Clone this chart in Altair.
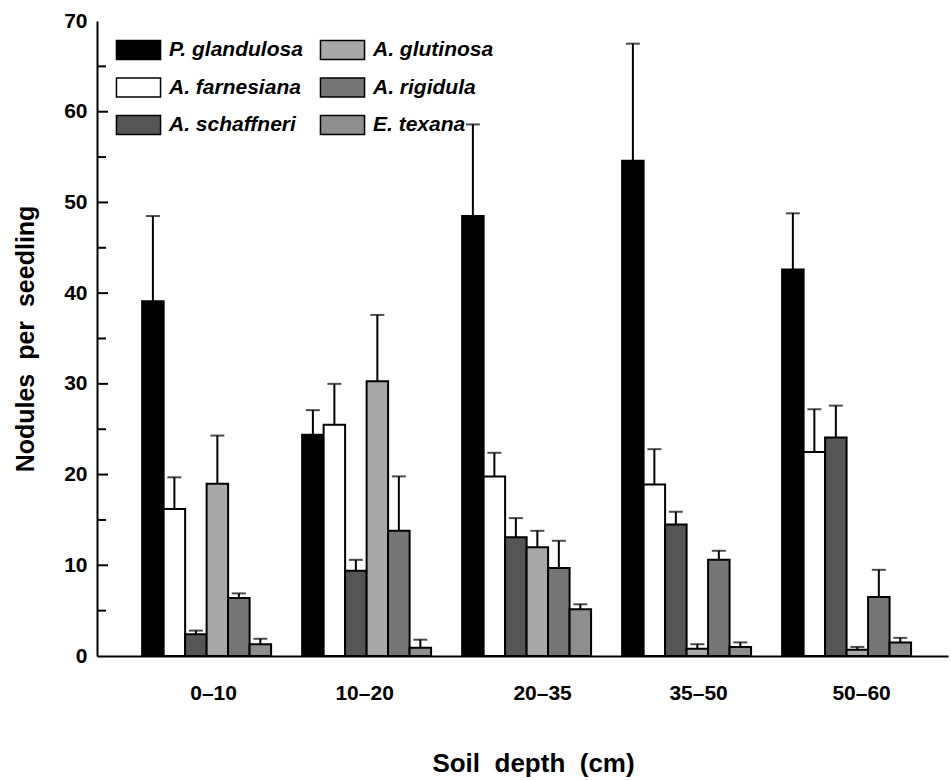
import altair as alt
import pandas as pd

groups = ["0–10", "10–20", "20–35", "35–50", "50–60"]
species = ["P. glandulosa", "A. farnesiana", "A. schaffneri",
           "A. glutinosa", "A. rigidula", "E. texana"]
means = {
    "P. glandulosa": [39.1, 24.4, 48.5, 54.6, 42.6],
    "A. farnesiana": [16.2, 25.5, 19.8, 18.9, 22.5],
    "A. schaffneri": [2.4, 9.4, 13.1, 14.5, 24.1],
    "A. glutinosa": [19.0, 30.3, 12.0, 0.8, 0.7],
    "A. rigidula": [6.4, 13.8, 9.7, 10.6, 6.5],
    "E. texana": [1.3, 0.9, 5.15, 1.0, 1.5],
}
errors = {
    "P. glandulosa": [9.4, 2.7, 10.1, 12.9, 6.2],
    "A. farnesiana": [3.5, 4.5, 2.6, 3.9, 4.7],
    "A. schaffneri": [0.4, 1.2, 2.1, 1.4, 3.5],
    "A. glutinosa": [5.3, 7.3, 1.8, 0.5, 0.3],
    "A. rigidula": [0.5, 6.0, 3.0, 1.0, 3.0],
    "E. texana": [0.6, 0.9, 0.55, 0.5, 0.5],
}
fills = {
    "P. glandulosa": "#000000",
    "A. farnesiana": "#ffffff",
    "A. schaffneri": "#555555",
    "A. glutinosa": "#a8a8a8",
    "A. rigidula": "#767676",
    "E. texana": "#8e8e8e",
}
major_ticks = [10, 20, 30, 40, 50, 60]
minor_ticks = [5, 15, 25, 35, 45, 55, 65]
label_shift = {"0–10": 7, "10–20": -2, "20–35": 16, "35–50": 12, "50–60": 15}

rows = []
for s in species:
    for g, m, e in zip(groups, means[s], errors[s]):
        rows.append({"depth": g, "species": s, "mean": m, "upper": m + e})
df = pd.DataFrame(rows)

FONT = "Liberation Sans"

x_enc = alt.X("depth:N", sort=groups,
              scale=alt.Scale(paddingInner=0.194, paddingOuter=0.2565, align=0.55),
              axis=alt.Axis(title="Soil\u00a0 depth\u00a0 (cm)", labelAngle=0, ticks=False,
                            labelFontSize=21, labelFont=FONT, labelFontWeight="bold",
                            labelColor="black", labelPadding=26,
                            labelOffset={"condition": [
                                {"test": f"datum.value === '{k}'", "value": v}
                                for k, v in label_shift.items()], "value": 0},
                            titleFontSize=26, titleFont=FONT, titleFontWeight="bold",
                            titleColor="black", titleX=436, titleY=115,
                            titleBaseline="alphabetic",
                            domainColor="black", domainWidth=2))
xo_enc = alt.XOffset("species:N", sort=species, scale=alt.Scale(paddingInner=0, paddingOuter=0))
y_scale = alt.Scale(domain=[0, 70], nice=False)

bars = alt.Chart(df).mark_bar(stroke="black", strokeWidth=2).encode(
    x=x_enc,
    xOffset=xo_enc,
    y=alt.Y("mean:Q", scale=y_scale,
            axis=alt.Axis(title="Nodules\u00a0 per\u00a0 seedling", values=[0, 10, 20, 30, 40, 50, 60, 70],
                          ticks=False, grid=False, labelFontSize=21, labelFont=FONT,
                          labelFontWeight="bold", labelColor="black", labelPadding=10,
                          titleFontSize=25, titleFont=FONT, titleFontWeight="bold",
                          titleColor="black", titleX=-64, titleBaseline="alphabetic",
                          domainColor="black", domainWidth=2)),
    fill=alt.Fill("species:N",
                  scale=alt.Scale(domain=species, range=[fills[s] for s in species]),
                  legend=alt.Legend(title=None, orient="none", legendX=31, legendY=18.5,
                                    columns=2, direction="vertical",
                                    symbolType="M-2.32,-1H2.32V1H-2.32Z", symbolSize=361,
                                    symbolStrokeColor="black", symbolStrokeWidth=1.5,
                                    labelFont=FONT, labelFontSize=21, labelFontStyle="italic",
                                    labelFontWeight="bold", labelColor="black",
                                    labelOffset=20, rowPadding=12.5, columnPadding=14,
                                    padding=0, labelLimit=300)),
)

err_line = alt.Chart(df).mark_rule(color="black", strokeWidth=2).encode(
    x=alt.X("depth:N", sort=groups), xOffset=alt.XOffset("species:N", sort=species),
    y=alt.Y("mean:Q"), y2="upper:Q")
err_cap = alt.Chart(df).mark_tick(color="black", thickness=2, size=14, orient="horizontal").encode(
    x=alt.X("depth:N", sort=groups), xOffset=alt.XOffset("species:N", sort=species),
    y=alt.Y("upper:Q"))

tick_major = alt.Chart(pd.DataFrame({"v": major_ticks})).mark_rule(
    color="black", strokeWidth=2).encode(y="v:Q", x=alt.value(0), x2=alt.value(11))
tick_minor = alt.Chart(pd.DataFrame({"v": minor_ticks})).mark_rule(
    color="black", strokeWidth=2).encode(y="v:Q", x=alt.value(0), x2=alt.value(9))

chart = alt.layer(bars, err_line, err_cap, tick_major, tick_minor).properties(
    width=851, height=635,
    autosize=alt.AutoSizeParams(type="none"),
    padding={"left": 97, "top": 21, "right": 3, "bottom": 124},
).configure_view(stroke=None).configure_axis(grid=False)

chart.save("out.html", embed_options={"renderer": "svg", "actions": False})
